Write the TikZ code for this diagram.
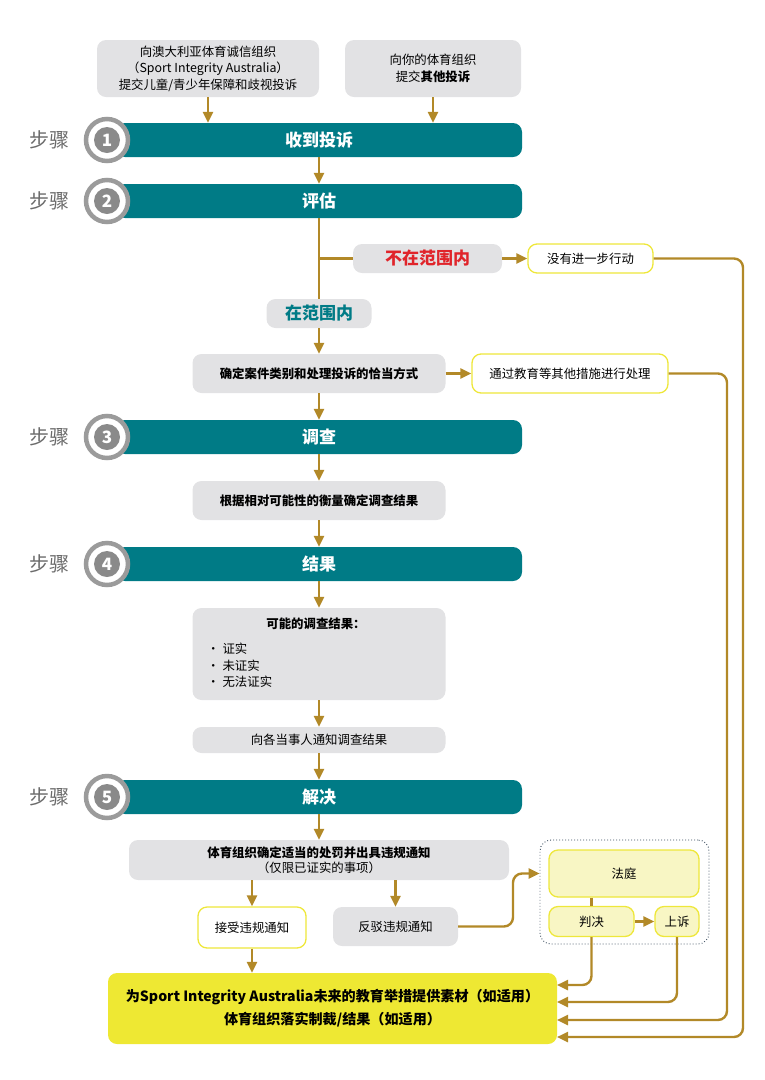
\documentclass[tikz,border=0pt]{standalone}
\usepackage{fontspec}
\setmainfont{Noto Sans CJK SC}
\usetikzlibrary{arrows.meta,calc,positioning}
\definecolor{cteal}{RGB}{0,123,134}
\definecolor{cgold}{RGB}{178,137,40}
\definecolor{cbox}{RGB}{226,226,228}
\definecolor{cylw}{RGB}{238,231,58}
\definecolor{cfinal}{RGB}{238,232,51}
\definecolor{cpale}{RGB}{248,246,196}
\definecolor{cred}{RGB}{224,36,42}
\definecolor{cring}{RGB}{155,155,155}
\definecolor{cdisk}{RGB}{138,138,138}
\definecolor{cdots}{RGB}{60,78,95}
\newcommand{\txtbody}{\fontsize{12.4}{16.5}\selectfont}
\newcommand{\txtbar}{\bfseries\fontsize{17}{20}\selectfont}
\newcommand{\txtstep}{\fontsize{20}{22}\selectfont}
\newcommand{\txtfinal}{\bfseries\fontsize{14.1}{23}\selectfont}
\tikzset{
  greybox/.style={rectangle,rounded corners=9pt,fill=cbox,draw=none,
    align=center,inner sep=0pt,font=\txtbody},
  whitebox/.style={greybox,fill=white,draw=cylw,line width=1.3pt},
  palebox/.style={greybox,fill=cpale,draw=cylw,line width=1.3pt},
  stepbar/.style={rectangle,rounded corners=9pt,fill=cteal,minimum width=406pt,
    minimum height=34pt,text=white,font=\txtbar},
  % numbered circle at the left end of each step bar
  ring/.style={circle,fill=white,draw=cring,line width=4.5pt,minimum size=42pt,
    inner sep=0pt},
  disk/.style={circle,fill=cdisk,minimum size=26pt,inner sep=0pt,text=white,
    font=\bfseries\fontsize{17}{17}\selectfont},
  steplab/.style={text=black!58,font=\txtstep},
  arr/.style={-{Triangle[length=11pt,width=10pt]},line width=2.4pt,cgold},
  link/.style={line width=2.4pt,cgold},
  scopelab/.style={greybox,font=\bfseries\fontsize{17}{20}\selectfont}
}

\begin{document}
\begin{tikzpicture}[x=1pt,y=-1pt]
\useasboundingbox (0,0) rectangle (764,1080);
% ---------- complaints ----------
\node[greybox,minimum width=222pt,minimum height=57pt] (srcA) at (208,68.5)
  {向澳大利亚体育诚信组织\\（Sport Integrity Australia）\\提交儿童/青少年保障和歧视投诉};
\node[greybox,minimum width=176pt,minimum height=57pt] (srcB) at (433,68.5)
  {向你的体育组织\\提交\textbf{其他投诉}};
% ---------- step bars ----------
\foreach \n/\y/\t in {1/140/收到投诉,2/201/评估,3/437/调查,4/564/结果,5/797/解决} {
  \node[stepbar] (bar\n) at (319,\y) {\t};
  \node[ring] (ring\n) at (107,\y) {};
  \node[disk] (num\n) at (107,\y) {\n};
  \node[steplab] (lab\n) at (50,\y) {步骤};
}
% ---------- assessment ----------
\node[scopelab,text=cred,minimum width=149pt,minimum height=29pt] (scout) at (427.5,258.5) {不在范围内};
\node[whitebox,minimum width=125pt,minimum height=29pt] (noact) at (590.5,258.5) {没有进一步行动};
\node[scopelab,text=cteal,minimum width=105pt,minimum height=29pt] (scin) at (319,313.5) {在范围内};
\node[greybox,font=\txtbody\bfseries,minimum width=253pt,minimum height=39pt] (classify) at (319,373.5)
  {确定案件类别和处理投诉的恰当方式};
\node[whitebox,minimum width=196pt,minimum height=39pt] (other) at (570,373.5) {通过教育等其他措施进行处理};
% ---------- investigation and outcome ----------
\node[greybox,font=\txtbody\bfseries,minimum width=253pt,minimum height=39pt] (weigh) at (319,500.5)
  {根据相对可能性的衡量确定调查结果};
\node[greybox,minimum width=253pt,minimum height=92pt] (outcomes) at (319,654) {};
\node[font=\txtbody\bfseries] (outtitle) at (316,624) {可能的调查结果：};
\node[font=\txtbody,align=left,anchor=west,inner sep=0pt] (outlist) at (207,665.5)
  {•\kern3pt 证实\\•\kern3pt 未证实\\•\kern3pt 无法证实};
\node[greybox,minimum width=253pt,minimum height=26pt] (notify) at (319,740) {向各当事人通知调查结果};
% ---------- resolution ----------
\node[greybox,minimum width=380pt,minimum height=40pt] (penalty) at (319,860)
  {\textbf{体育组织确定适当的处罚并出具违规通知}\\[-1.5pt]（仅限已证实的事项）};
\node[whitebox,minimum width=108pt,minimum height=41pt] (accept) at (252,927.5) {接受违规通知};
\node[greybox,minimum width=125pt,minimum height=39pt] (rebut) at (395.5,926.5) {反驳违规通知};
\node[draw=cdots,line width=0.9pt,dash pattern=on 0.9pt off 2.1pt,rounded corners=11pt,
  minimum width=169pt,minimum height=104pt] (courtgrp) at (624.5,892) {};
\node[palebox,minimum width=150pt,minimum height=47pt] (court) at (624,873.5) {法庭};
\node[palebox,minimum width=85pt,minimum height=30pt] (verdict) at (591.5,921.5) {判决};
\node[palebox,minimum width=44pt,minimum height=30pt] (appeal) at (677,921.5) {上诉};
\node[greybox,fill=cfinal,font=\txtfinal,minimum width=449pt,minimum height=71pt] (final) at (332.5,1008.5)
  {为Sport Integrity Australia未来的教育举措提供素材（如适用）\\体育组织落实制裁/结果（如适用）};
% ---------- free ends of the return lines ----------
\coordinate (railA) at (743,258.5);
\coordinate (railB) at (727,373.5);
\coordinate (jog) at (513,926.5);
\coordinate (in1) at (557,985);
\coordinate (in2) at (557,1002);
\coordinate (in3) at (557,1020);
\coordinate (in4) at (557,1037);
% ---------- connectors ----------
\draw[arr] (srcA.south) -- (srcA.south |- bar1.north);
\draw[arr] (srcB.south) -- (srcB.south |- bar1.north);
\draw[arr] (bar1) -- (bar2);
\draw[link] (bar2) -- (scin);
\draw[link] (scout.west -| bar2.south) -- (scout);
\draw[arr] (scout) -- (noact);
\draw[arr] (scin) -- (classify);
\draw[arr] (classify) -- (other);
\draw[arr] (classify) -- (bar3);
\draw[arr] (bar3) -- (weigh);
\draw[arr] (weigh) -- (bar4);
\draw[arr] (bar4) -- (outcomes);
\draw[arr] (outcomes) -- (notify);
\draw[arr] (notify) -- (bar5);
\draw[arr] (bar5) -- (penalty);
\draw[arr] (penalty.south -| accept.north) -- (accept);
\draw[arr] (penalty.south -| rebut.north) -- (rebut);
\draw[arr] (accept) -- (accept |- final.north);
\draw[arr,rounded corners=9pt] (rebut.east) -- (jog) -- (jog |- court) -- (court -| courtgrp.west);
\draw[link] (court.south -| verdict.north) -- (verdict);
\draw[arr] (verdict) -- (appeal);
\draw[arr,rounded corners=9pt] (verdict.south) -- (verdict.south |- in1) -- (in1);
\draw[arr,rounded corners=9pt] (appeal.south) -- (appeal.south |- in2) -- (in2);
\draw[arr,rounded corners=9pt] (other.east) -- (railB) -- (railB |- in3) -- (in3);
\draw[arr,rounded corners=9pt] (noact.east) -- (railA) -- (railA |- in4) -- (in4);
\end{tikzpicture}
\end{document}
